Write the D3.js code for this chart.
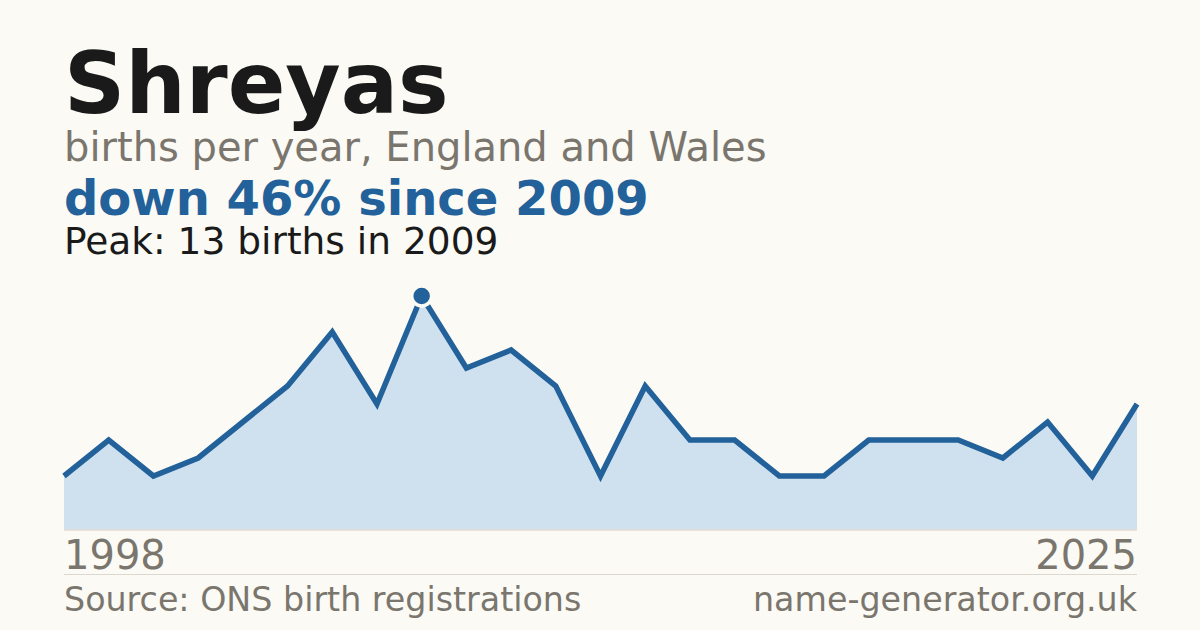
<!DOCTYPE html>
<html>
<head>
<meta charset="utf-8">
<script src="https://cdn.jsdelivr.net/npm/d3@7"></script>
<style>
  html, body { margin: 0; padding: 0; background: #fbfaf5; }
  svg { display: block; font-family: "DejaVu Sans", sans-serif; }
</style>
</head>
<body>
<svg id="chart" width="1200" height="630"></svg>
<script>
// years with a registered count (suppressed years are left out)
const years = [1998, 1999, 2001, 2002, 2004, 2005, 2006, 2008, 2009,
    2010, 2011, 2012, 2013, 2014, 2015, 2016, 2017, 2018, 2019, 2020,
    2021, 2022, 2023, 2024, 2025];
const births = [3, 5, 3, 4, 6, 8, 11, 7, 13,
    9, 10, 8, 3, 8, 5, 5, 3, 3, 5, 5,
    5, 4, 6, 3, 7];
const axisLabels = ["1998", "2025"];

const svg = d3.select("#chart");
const blue = "#22619a";

svg.append("rect").attr("width", 1200).attr("height", 630).attr("fill", "#fbfaf5");

// Headings
svg.append("text").attr("x", 64).attr("y", 113)
    .text("Shreyas")
    .attr("fill", "#1a1a1a")
    .attr("font-size", "85px")
    .attr("font-weight", "bold");

svg.append("text").attr("x", 64).attr("y", 161)
    .text("births per year, England and Wales")
    .attr("fill", "#7a766e")
    .attr("font-size", "40px");

svg.append("text").attr("x", 64).attr("y", 215)
    .text("down 46% since 2009")
    .attr("fill", blue)
    .attr("font-size", "48px")
    .attr("font-weight", "bold");

svg.append("text").attr("x", 64).attr("y", 254)
    .text("Peak: 13 births in 2009")
    .attr("fill", "#1a1a1a")
    .attr("font-size", "37.5px");

let scaleX = d3.scalePoint().domain(years).range([64, 1137]);
let scaleY = d3.scaleLinear().domain([0, 13]).range([530, 296]);

let area = d3.area()
    .x((d, i) => scaleX(years[i]))
    .y0(scaleY(0))
    .y1(d => scaleY(d));

let line = d3.line()
    .x((d, i) => scaleX(years[i]))
    .y(d => scaleY(d));

svg.append("path")
    .datum(births)
    .attr("fill", "#cfe0ef")
    .attr("d", area);

svg.append("line")
    .attr("x1", 64).attr("x2", 1137)
    .attr("y1", scaleY(0)).attr("y2", scaleY(0))
    .attr("stroke", "#e2ddd3")
    .attr("stroke-width", 1.5);

svg.append("path")
    .datum(births)
    .attr("fill", "none")
    .attr("stroke", blue)
    .attr("stroke-width", 5.5)
    .attr("stroke-linejoin", "miter")
    .attr("d", line);

// Peak marker
let peakIdx = births.indexOf(d3.max(births));
svg.append("circle")
    .attr("cx", scaleX(years[peakIdx]))
    .attr("cy", scaleY(births[peakIdx]))
    .attr("r", 10)
    .attr("fill", blue)
    .attr("stroke", "#fbfaf5")
    .attr("stroke-width", 3.5);

// Year labels
svg.append("text").attr("x", 64).attr("y", 569)
    .text(axisLabels[0])
    .attr("fill", "#7a766e")
    .attr("font-size", "40px");

svg.append("text").attr("x", 1137).attr("y", 569)
    .text(axisLabels[1])
    .attr("text-anchor", "end")
    .attr("fill", "#7a766e")
    .attr("font-size", "40px");

svg.append("line")
    .attr("x1", 64).attr("x2", 1137)
    .attr("y1", 574.5).attr("y2", 574.5)
    .attr("stroke", "#dcd8cf")
    .attr("stroke-width", 1);

// Footer
svg.append("text").attr("x", 64).attr("y", 611)
    .text("Source: ONS birth registrations")
    .attr("fill", "#7a766e")
    .attr("font-size", "33.3px");

svg.append("text").attr("x", 1137).attr("y", 611)
    .text("name-generator.org.uk")
    .attr("text-anchor", "end")
    .attr("fill", "#7a766e")
    .attr("font-size", "33.3px");
</script>
</body>
</html>
